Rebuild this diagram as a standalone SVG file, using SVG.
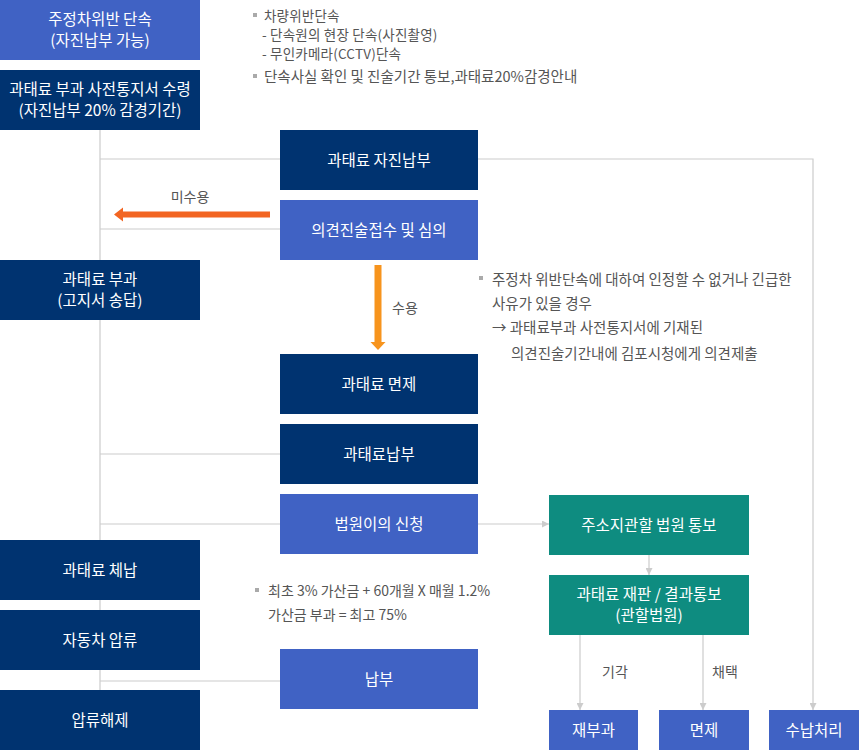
<svg xmlns="http://www.w3.org/2000/svg" width="859" height="750" viewBox="0 0 859 750">
<defs>
<style>
.nv{fill:#003370}
.bl{fill:#4062c4}
.gr{fill:#0e8c80}
.bt{font-family:"Noto Sans CJK KR","Noto Sans",sans-serif;font-size:15.5px;fill:#fff;text-anchor:middle}
.nt{font-family:"Noto Sans CJK KR","Noto Sans",sans-serif;font-size:14.5px;fill:#555}
.ns{font-family:"Noto Sans CJK KR","Noto Sans",sans-serif;font-size:14px;fill:#555}
.nu{font-family:"Noto Sans CJK KR","Noto Sans",sans-serif;font-size:13.5px;fill:#555;letter-spacing:0.2px}
.lb{font-family:"Noto Sans CJK KR","Noto Sans",sans-serif;font-size:14px;fill:#555;text-anchor:middle}
.ln{stroke:#cccccc;stroke-width:1.2;fill:none}
.sq{fill:#aaa}
</style>
<marker id="ga" viewBox="0 0 10 10" refX="10" refY="5" markerWidth="7" markerHeight="7" markerUnits="userSpaceOnUse" orient="auto">
<path d="M0,0 L10,5 L0,10 z" fill="#cccccc"/>
</marker>
</defs>
<rect width="859" height="750" fill="#fff"/>

<g id="connectors">
<path class="ln" d="M100,130 V690"/>
<path class="ln" d="M100,159 H280"/>
<path class="ln" d="M100,229 H280"/>
<path class="ln" d="M100,454 H280"/>
<path class="ln" d="M100,524 H280"/>
<path class="ln" d="M100,681 H280"/>
<path class="ln" d="M478,159 H813 V710" marker-end="url(#ga)"/>
<path class="ln" d="M478,524 H549" marker-end="url(#ga)"/>
<path class="ln" d="M649,555 V575" marker-end="url(#ga)"/>
<path class="ln" d="M580,635 V710" marker-end="url(#ga)"/>
<path class="ln" d="M703,635 V710" marker-end="url(#ga)"/>
<path d="M270,211.5 H123 V207.5 L114,214.5 L123,221.5 V217.5 H270 z" fill="#f26522"/>
<path d="M374.5,265 V342 H370.5 L378,350 L385.5,342 H381.5 V265 z" fill="#f7941d"/>
<text class="lb" x="190" y="202">미수용</text>
<text class="lb" x="405" y="313">수용</text>
<text class="lb" x="615" y="677">기각</text>
<text class="lb" x="725" y="677">채택</text>
</g>

<g id="n1"><rect class="bl" x="0" y="0" width="200" height="60"/><text class="bt" x="100" y="25">주정차위반 단속</text><text class="bt" x="100" y="46">(자진납부 가능)</text></g>
<g id="n2"><rect class="nv" x="0" y="70" width="200" height="60"/><text class="bt" x="100" y="95">과태료 부과 사전통지서 수령</text><text class="bt" x="100" y="116">(자진납부 20% 감경기간)</text></g>
<g id="n3"><rect class="nv" x="0" y="260" width="200" height="60"/><text class="bt" x="100" y="285">과태료 부과</text><text class="bt" x="100" y="306">(고지서 송답)</text></g>
<g id="n4"><rect class="nv" x="0" y="540" width="200" height="60"/><text class="bt" x="100" y="575.5">과태료 체납</text></g>
<g id="n5"><rect class="nv" x="0" y="610" width="200" height="60"/><text class="bt" x="100" y="645.5">자동차 압류</text></g>
<g id="n6"><rect class="nv" x="0" y="690" width="200" height="60"/><text class="bt" x="100" y="725.5">압류해제</text></g>

<g id="m1"><rect class="nv" x="280" y="130" width="198" height="60"/><text class="bt" x="379" y="165.5">과태료 자진납부</text></g>
<g id="m2"><rect class="bl" x="280" y="200" width="198" height="60"/><text class="bt" x="379" y="235.5">의견진술접수 및 심의</text></g>
<g id="m3"><rect class="nv" x="280" y="354" width="198" height="60"/><text class="bt" x="379" y="389.5">과태료 면제</text></g>
<g id="m4"><rect class="nv" x="280" y="424" width="198" height="60"/><text class="bt" x="379" y="459.5">과태료납부</text></g>
<g id="m5"><rect class="bl" x="280" y="494" width="198" height="60"/><text class="bt" x="379" y="529.5">법원이의 신청</text></g>
<g id="m6"><rect class="bl" x="280" y="649" width="198" height="60"/><text class="bt" x="379" y="684.5">납부</text></g>

<g id="g1"><rect class="gr" x="549" y="495" width="200" height="60"/><text class="bt" x="649" y="530.5">주소지관할 법원 통보</text></g>
<g id="g2"><rect class="gr" x="549" y="575" width="200" height="60"/><text class="bt" x="649" y="600">과태료 재판 / 결과통보</text><text class="bt" x="649" y="621">(관할법원)</text></g>

<g id="b1"><rect class="bl" x="549" y="710" width="89" height="40"/><text class="bt" x="593.5" y="735.5">재부과</text></g>
<g id="b2"><rect class="bl" x="659" y="710" width="90" height="40"/><text class="bt" x="704" y="735.5">면제</text></g>
<g id="b3"><rect class="bl" x="769" y="710" width="90" height="40"/><text class="bt" x="814" y="735.5">수납처리</text></g>

<g id="notes">
<rect class="sq" x="253" y="13" width="4" height="4"/>
<text class="nu" x="264" y="20.5">차량위반단속</text>
<text class="nu" x="262" y="40">- 단속원의 현장 단속(사진촬영)</text>
<text class="nu" x="262" y="58.5">- 무인카메라(CCTV)단속</text>
<rect class="sq" x="253" y="74" width="4" height="4"/>
<text class="nt" x="264" y="82">단속사실 확인 및 진술기간 통보,과태료20%감경안내</text>

<rect class="sq" x="479" y="276" width="4" height="4"/>
<text class="nt" x="492" y="285">주정차 위반단속에 대하여 인정할 수 없거나 긴급한</text>
<text class="nt" x="492" y="309">사유가 있을 경우</text>
<text class="nt" x="492" y="333">→ 과태료부과 사전통지서에 기재된</text>
<text class="nt" x="511" y="359">의견진술기간내에 김포시청에게 의견제출</text>

<rect class="sq" x="255" y="588" width="4" height="4"/>
<text class="ns" x="268" y="596">최초 3% 가산금 + 60개월 X 매월 1.2%</text>
<text class="ns" x="268" y="620">가산금 부과 = 최고 75%</text>
</g>
</svg>
